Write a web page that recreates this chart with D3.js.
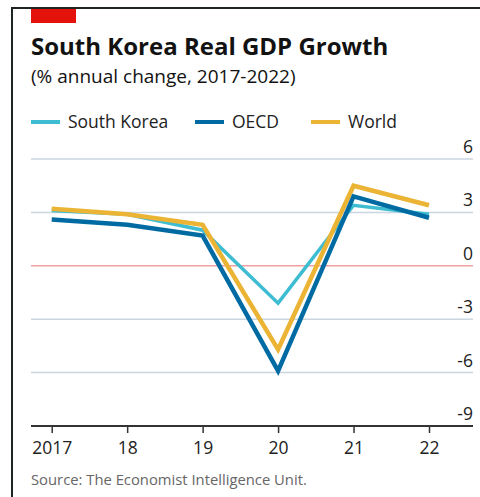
<!DOCTYPE html>
<html>
<head>
<meta charset="utf-8">
<script src="https://cdn.jsdelivr.net/npm/d3@7"></script>
<style>
  html, body { margin: 0; padding: 0; background: #fff; }
  svg { display: block; }
  text { font-family: "Open Sans", "Noto Sans", sans-serif; }
</style>
</head>
<body>
<div id="chart"></div>
<script>
const years = [2017, 2018, 2019, 2020, 2021, 2022];
const yearLabels = ["2017", "18", "19", "20", "21", "22"];
const southKorea = [3.1, 2.9, 2.0, -2.1, 3.4, 2.9];
const oecd = [2.6, 2.3, 1.7, -5.9, 3.9, 2.7];
const world = [3.2, 2.9, 2.3, -4.7, 4.5, 3.4];
const yTicks = [6, 3, 0, -3, -6, -9];
const seriesNames = ["South Korea", "OECD", "World"];
const seriesColors = ["#3ebcd2", "#006ba2", "#ebb434"];

const W = 480, H = 497;
const svg = d3.select("#chart").append("svg").attr("width", W).attr("height", H);

// frame
svg.append("line").attr("x1", 12).attr("x2", W).attr("y1", 8).attr("y2", 8)
  .attr("stroke", "#1e2420").attr("stroke-width", 2);
svg.append("line").attr("x1", 12).attr("x2", 12).attr("y1", 7).attr("y2", H)
  .attr("stroke", "#1e2420").attr("stroke-width", 2);
svg.append("rect").attr("x", 31).attr("y", 9).attr("width", 45).attr("height", 14).attr("fill", "#e3120b");

svg.append("text").attr("x", 31).attr("y", 55).attr("font-size", 24).attr("font-weight", 700)
  .attr("fill", "#121212").text("South Korea Real GDP Growth");
svg.append("text").attr("x", 31).attr("y", 83).attr("font-size", 19)
  .attr("fill", "#121212").text("(% annual change, 2017-2022)");

// legend
const legendX = [31, 195, 311];
seriesNames.forEach((n, i) => {
  svg.append("line").attr("x1", legendX[i]).attr("x2", legendX[i] + 29)
    .attr("y1", 122).attr("y2", 122).attr("stroke", seriesColors[i]).attr("stroke-width", 4);
  svg.append("text").attr("x", legendX[i] + 37).attr("y", 128).attr("font-size", 17.5)
    .attr("fill", "#222").text(n);
});

const x = d3.scalePoint().domain(years).range([51.7, 429]);
const y = d3.scaleLinear().domain([-9, 6]).range([426, 159]);
const left = 31, right = 473;

// gridlines
svg.append("g").selectAll("line").data(yTicks.filter(t => t !== -9)).join("line")
  .attr("x1", left).attr("x2", right)
  .attr("y1", d => y(d)).attr("y2", d => y(d))
  .attr("stroke", d => d === 0 ? "#f0a0a0" : "#c9d5df").attr("stroke-width", 1.5);

// y tick labels
svg.append("g").selectAll("text").data(yTicks).join("text")
  .attr("x", right).attr("y", d => y(d) - 6).attr("text-anchor", "end")
  .attr("font-size", 17.5).attr("fill", "#222").text(d => d);

// x axis
const xAxis = d3.axisBottom(x).tickSize(7).tickFormat((d, i) => yearLabels[i]);
const gx = svg.append("g").attr("transform", `translate(0,${y(-9)})`).call(xAxis);
gx.select(".domain").remove();
gx.selectAll(".tick line").attr("stroke", "#333").attr("stroke-width", 1.5);
gx.selectAll(".tick text").attr("font-size", 17.5).attr("fill", "#222").attr("dy", "1.05em")
  .style("font-family", '"Open Sans", sans-serif');
svg.append("line").attr("x1", left).attr("x2", right).attr("y1", y(-9)).attr("y2", y(-9))
  .attr("stroke", "#333").attr("stroke-width", 2);

// lines
const line = d3.line().x((d, i) => x(years[i])).y(d => y(d));
const allSeries = [southKorea, oecd, world];
const widths = [3.5, 4.5, 4.5];
[southKorea, world, oecd].forEach(s => {
  const i = allSeries.indexOf(s);
  svg.append("path").datum(s).attr("d", line).attr("fill", "none")
    .attr("stroke", seriesColors[i]).attr("stroke-width", widths[i])
    .attr("stroke-linejoin", "miter");
});

svg.append("text").attr("x", 31).attr("y", 485).attr("font-size", 14.8)
  .attr("fill", "#666").text("Source: The Economist Intelligence Unit.");
</script>
</body>
</html>
